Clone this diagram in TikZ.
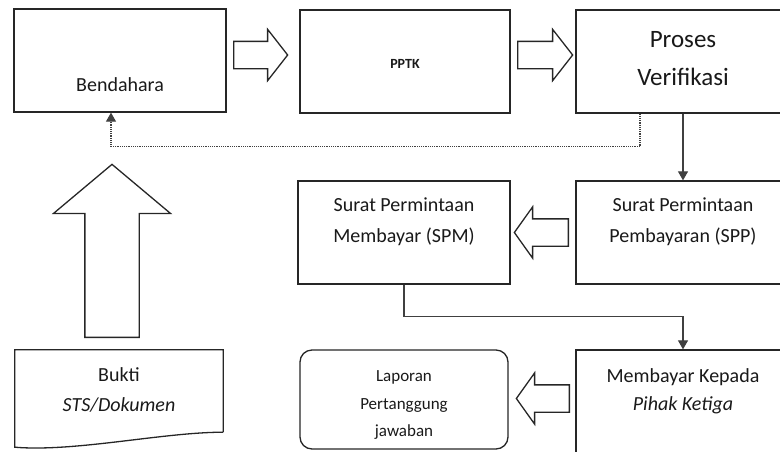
\documentclass[tikz,border=0pt]{standalone}
\usepackage{fontspec}
\setmainfont{Carlito}
\usetikzlibrary{arrows.meta,shapes.arrows,calc}
\begin{document}
\begin{tikzpicture}[x=1pt,y=-1pt,
    box/.style={draw=black!85,line width=1.3pt,minimum height=103pt},
    txt/.style={text=black!90,align=center,font=\fontsize{20}{31}\selectfont},
    fat/.style={single arrow,draw=black!85,line width=1.3pt,inner xsep=0pt,inner ysep=13pt,
        single arrow head extend=12pt,single arrow tip angle=104,anchor=tail},
    thin/.style={draw=black!75,line width=1.2pt,-{Triangle[width=10pt,length=9pt]}}]
    \clip (0,0) rectangle (780,451);

    \node [box,minimum width=212pt,label={[txt,yshift=-24.5pt]center:Bendahara}] (bend) at (120,60.5) {};
    \node [box,minimum width=210pt,label={[txt,yshift=-2.5pt,font=\bfseries\fontsize{14}{16}\selectfont]center:PPTK}] (pptk) at (405,61.5) {};
    \node [box,minimum width=214pt,label={[txt,yshift=2.5pt,font=\fontsize{25}{38}\selectfont]center:Proses\\Verifikasi}] (proses) at (683,61.5) {};
    \node [box,minimum width=212pt,label={[txt,yshift=11pt]center:Surat Permintaan\\Membayar (SPM)}] (spm) at (404,232.5) {};
    \node [box,minimum width=214pt,label={[txt,yshift=11pt]center:Surat Permintaan\\Pembayaran (SPP)}] (spp) at (683,232.5) {};
    \node [box,minimum width=208pt,minimum height=99pt,rounded corners=12pt,label={[txt,yshift=-5.5pt,font=\fontsize{17}{27.5}\selectfont]center:Laporan\\Pertanggung\\jawaban}] (lap) at (404,399.5) {};
    \node [box,minimum width=214pt,minimum height=110pt,label={[txt,yshift=14pt,font=\fontsize{20}{28}\selectfont]center:Membayar Kepada\\\textit{Pihak Ketiga}}] (memb) at (683,405) {};
    \node [minimum width=208pt,minimum height=97pt,label={[txt,yshift=8.5pt,font=\fontsize{20}{30}\selectfont]center:Bukti\\\textit{STS/Dokumen}}] (bukti) at (119,398.5) {};
    \draw [black!85,line width=1.3pt] ([yshift=15pt]bukti.south east) -- (bukti.north east) -- (bukti.north west) -- (bukti.south west)
        .. controls +(60,5) and +(-60,0) .. ([yshift=15pt]bukti.south east);

    \node [fat,minimum height=54pt] (a-bp) at (233,55) {};
    \node [fat,minimum height=55pt] (a-pv) at (517,55) {};
    \node [fat,minimum height=54pt,rotate=180,single arrow tip angle=109] (a-spp) at (569,232.5) {};
    \node [fat,minimum height=53pt,rotate=180,single arrow tip angle=109] (a-lap) at (570,398.5) {};
    \node [fat,minimum height=173pt,rotate=90,inner ysep=26.5pt,single arrow head extend=31.5pt,single arrow tip angle=100] (a-up) at (112,338) {};

    \draw [thin] (proses) -- (spp);
    \draw [thin,densely dotted] ([xshift=-43pt]proses.south) -- ++(0,33) -| ([xshift=-9pt]bend.south);
    \draw [thin] (spm.south) -- ++(0,32) -| (memb.north);
\end{tikzpicture}
\end{document}
